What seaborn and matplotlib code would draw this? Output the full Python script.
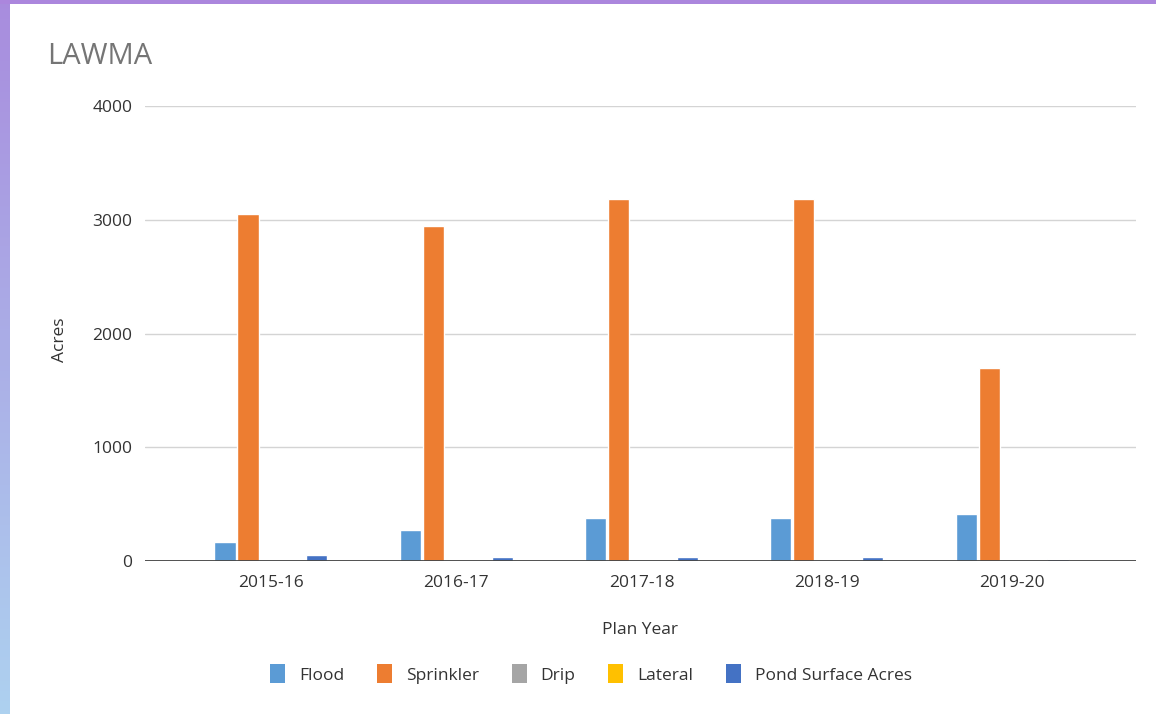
import numpy as np
import pandas as pd
import seaborn as sns
import matplotlib.pyplot as plt

# values
years = ["2015-16", "2016-17", "2017-18", "2018-19", "2019-20"]
flood = [167, 272, 378, 378, 413]
sprinkler = [3050, 2945, 3182, 3182, 1697]
drip = [0, 0, 0, 0, 0]
lateral = [0, 0, 0, 0, 0]
pond = [53, 35, 35, 35, 18]

series = ["Flood", "Sprinkler", "Drip", "Lateral", "Pond Surface Acres"]
colors = ["#5B9BD5", "#ED7D31", "#A5A5A5", "#FFC000", "#4472C4"]

df = pd.DataFrame({"Plan Year": years, "Flood": flood, "Sprinkler": sprinkler,
                   "Drip": drip, "Lateral": lateral, "Pond Surface Acres": pond})
long_df = df.melt(id_vars="Plan Year", var_name="Type", value_name="Acres")

sns.set_style("white")
plt.rcParams["font.family"] = ["Open Sans", "DejaVu Sans"]

fig = plt.figure(figsize=(11.56, 7.14), dpi=100)
W, H = 1156, 714

# decorative border (purple/blue gradient on left, purple on top)
grad = np.linspace(0, 1, 256).reshape(-1, 1)
bax = fig.add_axes([0, 0, 10 / W, 1])
top_c = np.array([0.66, 0.55, 0.87])
bot_c = np.array([0.68, 0.82, 0.94])
img = top_c[None, None, :] * (1 - grad[:, :, None]) + bot_c[None, None, :] * grad[:, :, None]
bax.imshow(img, aspect="auto")
bax.axis("off")
tax = fig.add_axes([0, 1 - 4 / H, 1, 4 / H])
tax.set_facecolor("#ab86dd")
tax.set_xticks([]); tax.set_yticks([])
for s in tax.spines.values():
    s.set_visible(False)

ax = fig.add_axes([145 / W, 1 - 561 / H, 991 / W, 455 / H])
sns.barplot(data=long_df, x="Plan Year", y="Acres", hue="Type", hue_order=series,
            palette=colors, width=0.62, gap=0.08, saturation=1, ax=ax, legend=False)

ax.set_ylim(0, 4000)
ax.set_xlim(-0.68, 4.669)
ax.set_yticks([0, 1000, 2000, 3000, 4000])
ax.grid(axis="y", color="#d4d4d4", linewidth=1)
ax.set_axisbelow(True)
ax.axhline(0, color="#444444", linewidth=1.3, zorder=5)
for s in ax.spines.values():
    s.set_visible(False)
ax.tick_params(axis="both", length=0, labelsize=12.5, labelcolor="#333333")
ax.tick_params(axis="y", pad=9)
ax.tick_params(axis="x", pad=10)

ax.set_xlabel("Plan Year", fontsize=12.5, color="#333333")
ax.set_ylabel("Acres", fontsize=12.5, color="#333333")
ax.xaxis.set_label_coords((640 - 145) / 991, (561 - 622) / 455)
ax.yaxis.set_label_coords((68 - 145) / 991, (561 - 340) / 455)

fig.text(47 / W, 1 - 57 / H, "LAWMA", fontsize=21, color="#757575", va="center", ha="left")

handles = [plt.Rectangle((0, 0), 1, 1, facecolor=c, edgecolor="none") for c in colors]
fig.legend(handles, series, loc="center", bbox_to_anchor=(591 / W, 1 - 674 / H), ncol=5,
           frameon=False, fontsize=12.5, labelcolor="#333333", handlelength=0.85,
           handleheight=1.3, handletextpad=0.8, columnspacing=1.9)

fig.savefig("out.png", dpi=100, facecolor="white")
